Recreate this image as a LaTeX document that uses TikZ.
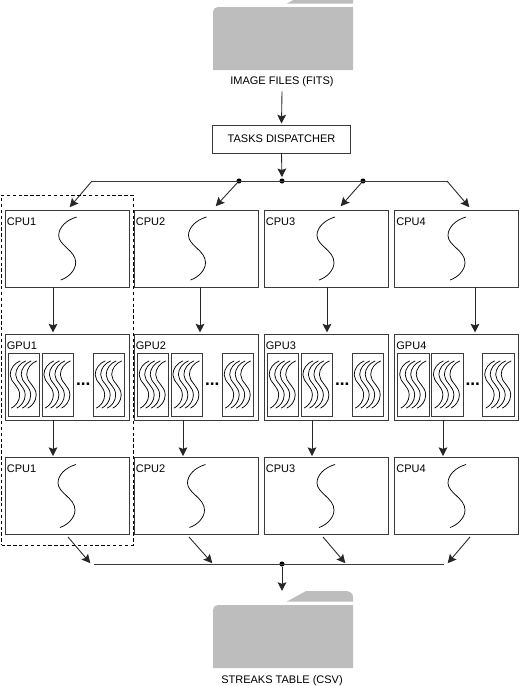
\documentclass[tikz,border=0pt]{standalone}
\usepackage{fontspec}
\setmainfont{Liberation Sans}
\usetikzlibrary{arrows.meta,positioning,calc}
\definecolor{folder}{HTML}{BDBDBD}
\definecolor{ink}{HTML}{3A3A3A}
\newcommand{\Squiggle}[4]{% centre x, centre y, xscale, yscale
 \draw[black,line width=0.55pt,shift={(#1,#2)},xscale=#3,yscale=#4]
 (8.5,-31.5) .. controls (-2,-28.5) and (-9.5,-21) .. (-9.5,-13)
 .. controls (-9.5,-3) and (7.5,2) .. (7.5,14)
 .. controls (7.5,22) and (0,29) .. (-7.5,31.5);}
\newcommand{\Folder}[1]{% vertical shift
 \fill[folder,shift={(0,#1)}] (213,668) -- (213,610) to[out=90,in=180] (218,605) -- (353,605) -- (353,668) -- cycle;
 \fill[folder,shift={(0,#1)}] (287,601.5) -- (306,591) -- (346,591) to[out=0,in=90] (353,597) -- (353,601.5) -- cycle;}
\begin{document}
\begin{tikzpicture}[
 x=0.75pt,y=-0.75pt,
 font=\fontsize{8.25}{10}\selectfont,text=black,
 box/.style={draw=ink,line width=0.7pt,inner sep=0pt,minimum width=93pt,minimum height=57.7pt},
 gpubox/.style={box,minimum height=64.5pt},
 cell/.style={draw=ink,line width=0.65pt,inner sep=0pt,minimum width=23.6pt,minimum height=47pt},
 tag/.style={anchor=north west,inner sep=0pt,xshift=1.6pt,yshift=-5.8pt},
 dot/.style={circle,fill=black,inner sep=0pt,minimum size=3.8pt},
 flow/.style={-{Stealth[length=6.5pt,width=6.5pt,inset=1.2pt]},black!85,line width=0.65pt,shorten >=0.8pt},
 wire/.style={ink,line width=0.65pt}]
\clip (0,0) rectangle (520,686);
\Folder{-598}
\Folder{0}
\node (images) at (282,81.5) {IMAGE FILES (FITS)};
\node (table) at (282,681) {STREAKS TABLE (CSV)};
\node[draw=ink,line width=0.7pt,minimum width=104pt,minimum height=21pt,inner sep=0pt] (dispatch) at (281.5,139) {TASKS DISPATCHER};
\draw[flow] (images.south) -- (dispatch.north);
% split
\node[dot] (split) at (282,181) {};
\node[dot] (splitl) at (239,181) {};
\node[dot] (splitr) at (363,181) {};
\coordinate (wirel) at (92,181);
\coordinate (wirer) at (447,181);
\draw[flow] (dispatch.south) -- (split.north);
\draw[wire] (wirel) -- (wirer);
% columns
\foreach \i/\x/\xa/\xb/\sa/\sb in {1/67/53/53/68.2/67.5,2/196/200/183/198/197,3/326/327/312/326.5/326.5,4/456.5/475/443/457.5/457.5}{
 \node[box] (top\i) at (\x,248.5) {};
 \node[gpubox] (gpu\i) at (\x,377) {};
 \node[box] (low\i) at (\x,496) {};
 \node[tag] (toptag\i) at (top\i.north west) {CPU\i};
 \node[tag] (gputag\i) at (gpu\i.north west) {GPU\i};
 \node[tag] (lowtag\i) at (low\i.north west) {CPU\i};
 \Squiggle{\sa}{248.5}{1}{1}
 \Squiggle{\sb}{496}{1}{1}
 \coordinate (ta\i) at (\xa,300);
 \coordinate (tb\i) at (\xb,430);
 \draw[flow] (top\i.south -| ta\i) -- (gpu\i.north -| ta\i);
 \draw[flow] (gpu\i.south -| tb\i) -- (low\i.north -| tb\i);
 \foreach \c/\dx in {a/-43,b/-9.3,c/42}{
  \node[cell] (cell\i\c) at ($(gpu\i.center)+(\dx,7.7)$) {};
  \foreach \k in {-8.5,-3,2.5,8}{
   \Squiggle{\x+\dx+\k}{384.5}{0.56}{0.75}
  }
 }
 \node[font=\bfseries\fontsize{13}{13}\selectfont,inner sep=0pt] (more\i) at ($(gpu\i.center)+(16.3,7)$) {...};
}
% arrows out of the split
\coordinate (into1) at (69,208);
\coordinate (into2) at (215,207);
\coordinate (into3) at (340,207);
\coordinate (into4) at (470,208);
\draw[flow] (wirel) -- (into1);
\draw[flow] (splitl) -- (into2);
\draw[flow] (splitr) -- (into3);
\draw[flow] (wirer) -- (into4);
% dashed group
\node[draw=black,dash pattern=on 2.5pt off 1.9pt,line width=0.6pt,inner sep=0pt,minimum width=98.6pt,minimum height=262.5pt] (group) at (67.25,370) {};
% merge
\node[dot] (merge) at (282,564) {};
\coordinate (mergel) at (94,564);
\coordinate (merger) at (444,564);
\draw[wire] (mergel) -- (merger);
\coordinate (out1) at (68,537);
\coordinate (out2) at (189,537);
\coordinate (out3) at (323,537);
\coordinate (out4) at (470,537);
\coordinate (land1) at (91,564);
\coordinate (land2) at (213,564);
\coordinate (land3) at (346,564);
\coordinate (land4) at (447,564);
\foreach \i in {1,2,3,4}
 \draw[flow] (out\i) -- (land\i);
\coordinate (tabtop) at (282,592);
\draw[flow] (merge) -- (tabtop);
\end{tikzpicture}
\end{document}
